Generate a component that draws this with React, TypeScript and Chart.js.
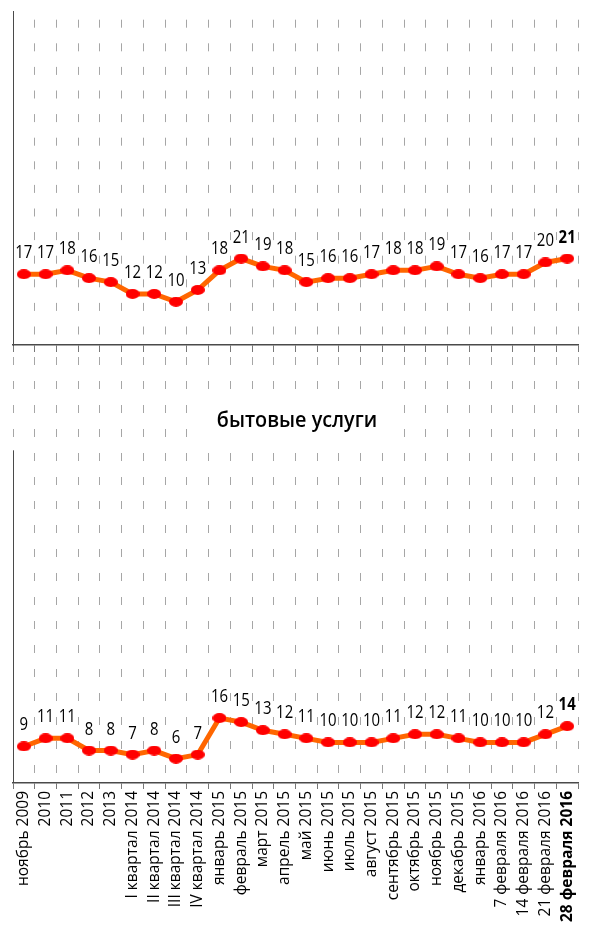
import React, { useEffect, useRef } from 'react';
import { Chart, registerables } from 'chart.js';

Chart.register(...registerables);

// ---------- data ----------
const categories = [
  'ноябрь 2009', '2010', '2011', '2012', '2013',
  'I квартал 2014', 'II квартал 2014', 'III квартал 2014', 'IV квартал 2014',
  'январь 2015', 'февраль 2015', 'март 2015', 'апрель 2015', 'май 2015',
  'июнь 2015', 'июль 2015', 'август 2015', 'сентябрь 2015', 'октябрь 2015',
  'ноябрь 2015', 'декабрь 2015', 'январь 2016', '7 февраля 2016',
  '14 февраля 2016', '21 февраля 2016', '28 февраля 2016',
];
const topValues = [17, 17, 18, 16, 15, 12, 12, 10, 13, 18, 21, 19, 18, 15, 16, 16, 17, 18, 18, 19, 17, 16, 17, 17, 20, 21];
const bottomValues = [9, 11, 11, 8, 8, 7, 8, 6, 7, 16, 15, 13, 12, 11, 10, 10, 10, 11, 12, 12, 11, 10, 10, 10, 12, 14];
const bottomTitle = 'бытовые услуги';

// ---------- styles ----------
const LINE_COLOR = '#FF6600';
const POINT_COLOR = '#FF0000';
const GRID_COLOR = '#a6a6a6';
const AXIS_COLOR = '#4a4a4a';
const FONT_FAMILY = '"Open Sans", "Noto Sans", sans-serif';

function makeEllipse(w: number, h: number, color: string) {
  const c = document.createElement('canvas');
  c.width = w;
  c.height = h;
  const g = c.getContext('2d')!;
  g.fillStyle = color;
  g.beginPath();
  g.ellipse(w / 2, h / 2, w / 2, h / 2, 0, 0, Math.PI * 2);
  g.fill();
  return c;
}

function drawCondensed(ctx: CanvasRenderingContext2D, text: string, x: number, y: number, font: string, sx: number) {
  ctx.save();
  ctx.font = font;
  ctx.fillStyle = '#000';
  ctx.textAlign = 'center';
  ctx.textBaseline = 'alphabetic';
  ctx.translate(x, y);
  ctx.scale(sx, 1);
  ctx.fillText(text, 0, 0);
  ctx.restore();
}

const valueLabelsPlugin = {
  id: 'valueLabels',
  afterDatasetsDraw(chart: any) {
    const ctx = chart.ctx;
    chart.data.datasets.forEach((ds: any, di: number) => {
      const meta = chart.getDatasetMeta(di);
      const n = ds.data.length;
      meta.data.forEach((el: any, i: number) => {
        const font = `${i === n - 1 ? '700 ' : ''}18px ${FONT_FAMILY}`;
        drawCondensed(ctx, String(ds.data[i]), el.x, el.y - 16, font, 0.83);
      });
    });
  },
};

function baseDataset(values: number[], pointImg: HTMLCanvasElement) {
  return {
    data: values,
    borderColor: LINE_COLOR,
    borderWidth: 5,
    pointStyle: pointImg,
    pointRadius: 6,
    pointHoverRadius: 6,
    tension: 0,
    fill: false,
  };
}

export default function App() {
  const topRef = useRef<HTMLCanvasElement>(null);
  const botRef = useRef<HTMLCanvasElement>(null);

  useEffect(() => {
    const pointImg = makeEllipse(14, 10, POINT_COLOR);
    const last = categories.length - 1;

    const top = new Chart(topRef.current!, {
      type: 'line',
      data: { labels: categories, datasets: [baseDataset(topValues, pointImg) as any] },
      options: {
        animation: false,
        responsive: false,
        events: [],
        layout: { padding: { left: 13, right: 8, top: 4, bottom: 0 } },
        plugins: { legend: { display: false }, tooltip: { enabled: false } },
        scales: {
          x: {
            offset: true,
            grid: {
              offset: true,
              color: GRID_COLOR,
              lineWidth: 1,
              drawTicks: true,
              tickLength: 7,
              tickColor: '#777',
              tickWidth: 1,
              tickBorderDash: [],
            },
            border: { display: true, color: AXIS_COLOR, width: 1.5, dash: [8, 15.6], dashOffset: 14.9 },
            ticks: { display: false },
            afterFit: (s: any) => { s.height = 15; },
          },
          y: {
            min: -1,
            max: 84,
            grid: { display: false, drawTicks: false },
            ticks: { display: false },
            border: { display: true, color: AXIS_COLOR, width: 1 },
            afterFit: (s: any) => { s.width = 0; },
          },
        },
      },
      plugins: [valueLabelsPlugin],
    } as any);

    const leftAxisFrom = 82;
    const bottomDecor = {
      id: 'bottomDecor',
      beforeDatasetsDraw(chart: any) {
        const ctx = chart.ctx;
        const area = chart.chartArea;
        const y = chart.scales.y;
        // partial left axis
        ctx.save();
        ctx.strokeStyle = AXIS_COLOR;
        ctx.lineWidth = 1;
        ctx.beginPath();
        ctx.moveTo(area.left + 0.5, y.getPixelForValue(leftAxisFrom));
        ctx.lineTo(area.left + 0.5, area.bottom);
        ctx.stroke();
        // title with white box
        const cx = 297;
        const by = 80.7;
        ctx.fillStyle = '#fff';
        ctx.fillRect(cx - 93, by - 29, 186, 44);
        ctx.restore();
        drawCondensed(ctx, bottomTitle, cx, by, `600 22px ${FONT_FAMILY}`, 0.9);
      },
    };

    const bottom = new Chart(botRef.current!, {
      type: 'line',
      data: { labels: categories, datasets: [baseDataset(bottomValues, pointImg) as any] },
      options: {
        animation: false,
        responsive: false,
        events: [],
        layout: { padding: { left: 13, right: 8, top: 1, bottom: 0 } },
        plugins: { legend: { display: false }, tooltip: { enabled: false } },
        scales: {
          x: {
            offset: true,
            grid: {
              offset: true,
              color: GRID_COLOR,
              lineWidth: 1,
              drawTicks: true,
              tickLength: 6,
              tickColor: '#777',
              tickWidth: 1,
              tickBorderDash: [],
            },
            border: { display: true, color: AXIS_COLOR, width: 1.5, dash: [8, 16], dashOffset: 0 },
            ticks: {
              autoSkip: false,
              maxRotation: 90,
              minRotation: 90,
              padding: 2,
              color: '#000',
              font: (ctx: any) => ({
                family: FONT_FAMILY,
                size: 15.5,
                weight: ctx.index === last ? 'bold' : 'normal',
              }),
            },
            afterFit: (s: any) => { s.height = 143; },
          },
          y: {
            min: 0,
            max: 105,
            grid: { display: false, drawTicks: false },
            ticks: { display: false },
            border: { display: false },
            afterFit: (s: any) => { s.width = 0; },
          },
        },
      },
      plugins: [bottomDecor, valueLabelsPlugin],
    } as any);

    return () => {
      top.destroy();
      bottom.destroy();
    };
  }, []);

  return (
    <div style={{ position: 'absolute', left: 0, top: 0, width: 589, height: 926, background: '#fff' }}>
      <canvas ref={topRef} width={589} height={360} style={{ position: 'absolute', left: 0, top: 0 }} />
      <canvas ref={botRef} width={589} height={580} style={{ position: 'absolute', left: 0, top: 346 }} />
    </div>
  );
}
